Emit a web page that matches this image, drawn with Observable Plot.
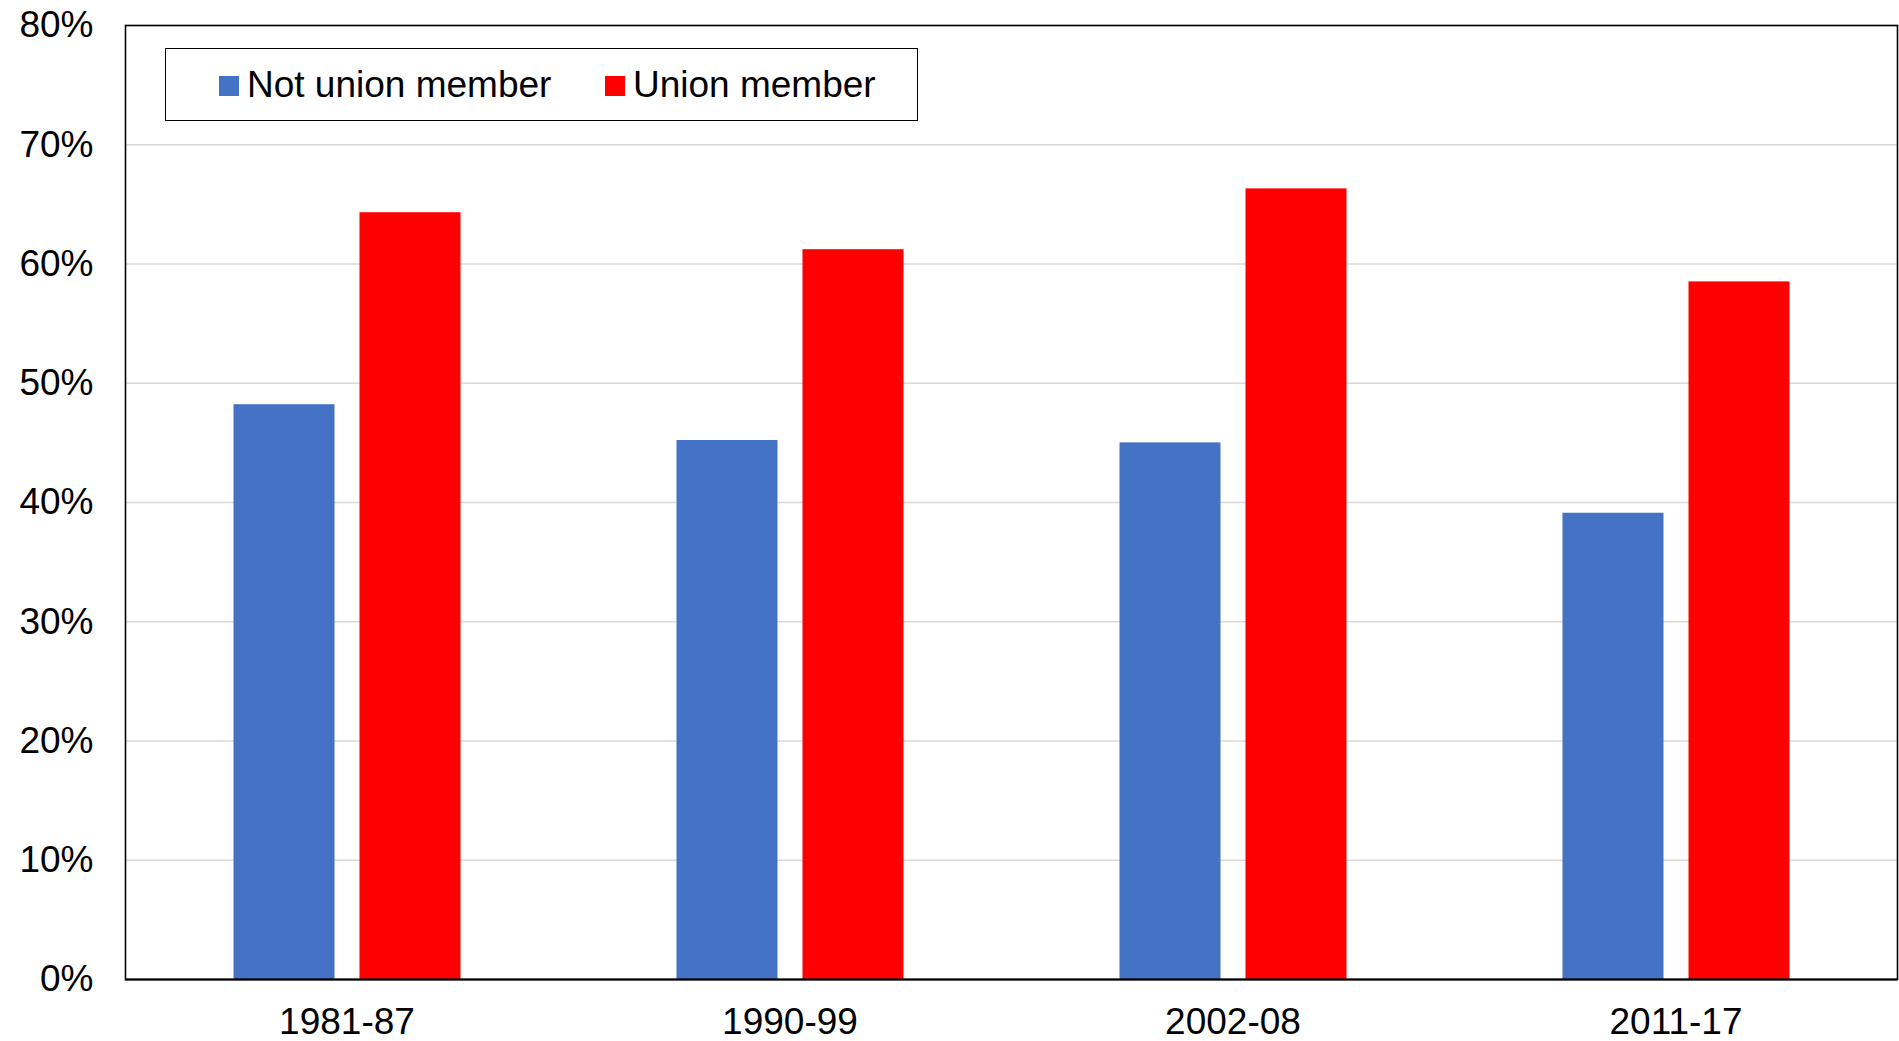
<!DOCTYPE html>
<html>
<head>
<meta charset="utf-8">
<script src="https://cdn.jsdelivr.net/npm/d3@7"></script>
<script src="https://cdn.jsdelivr.net/npm/@observablehq/plot@0.6"></script>
<style>
  html, body { margin: 0; padding: 0; background: white; overflow: hidden; }
  #wrap { position: relative; width: 1899px; height: 1041px; font-family: "Liberation Sans", Arial, sans-serif; }
  #legend-box { position: absolute; left: 165px; top: 48px; width: 751px; height: 71px; border: 1.6px solid black; background: white; }
  .sw { position: absolute; width: 19.5px; height: 19.5px; top: 76px; }
  .lt { position: absolute; font-size: 37px; line-height: 37px; top: 65.5px; white-space: nowrap; color: black; }
</style>
</head>
<body>
<div id="wrap">
  <div id="chart"></div>
  <div id="legend-box"></div>
</div>
<script>
const categories = ["1981-87", "1990-99", "2002-08", "2011-17"];
const series = ["Not union member", "Union member"];
const notUnionValues = [48.2, 45.2, 45.0, 39.1];
const unionValues = [64.3, 61.2, 66.3, 58.5];
const yTicks = [0, 10, 20, 30, 40, 50, 60, 70, 80];
const seriesColors = ["#4472C4", "#FF0000"];

const data = categories.flatMap((c, i) => [
  {period: c, series: series[0], value: notUnionValues[i]},
  {period: c, series: series[1], value: unionValues[i]}
]);

const chart = Plot.plot({
  width: 1899,
  height: 1041,
  marginLeft: 123.5,
  marginRight: 0,
  marginTop: 25,
  marginBottom: 62,
  style: {fontFamily: "'Liberation Sans', Arial, sans-serif", fontSize: "37px", color: "black", background: "white"},
  fx: {domain: categories, padding: 0, label: null, tickSize: 0, tickPadding: 28},
  x: {domain: series, paddingInner: 0.2, paddingOuter: 0.85, axis: null},
  y: {domain: [0, 80], ticks: yTicks, tickFormat: d => d + "%", label: null, tickSize: 0, tickPadding: 32},
  color: {domain: series, range: seriesColors},
  marks: [
    Plot.gridY(yTicks, {stroke: "#d9d9d9", strokeOpacity: 1, strokeWidth: 1.5}),
    Plot.barY(data, {fx: "period", x: "series", y: "value", fill: "series"}),
    Plot.ruleY([0], {stroke: "black", strokeWidth: 2.2}),
    Plot.frame({facet: "super", stroke: "black", strokeWidth: 1.6})
  ]
});
document.getElementById("chart").appendChild(chart);

// Legend (inside the plot area, as in the reference)
const wrap = document.getElementById("wrap");
const legendItems = [
  {label: series[0], color: seriesColors[0], swatchLeft: 219, textLeft: 247},
  {label: series[1], color: seriesColors[1], swatchLeft: 605, textLeft: 633}
];
legendItems.forEach(it => {
  const sw = document.createElement("div");
  sw.className = "sw";
  sw.style.left = it.swatchLeft + "px";
  sw.style.background = it.color;
  wrap.appendChild(sw);
  const t = document.createElement("div");
  t.className = "lt";
  t.style.left = it.textLeft + "px";
  t.textContent = it.label;
  wrap.appendChild(t);
});
</script>
</body>
</html>
